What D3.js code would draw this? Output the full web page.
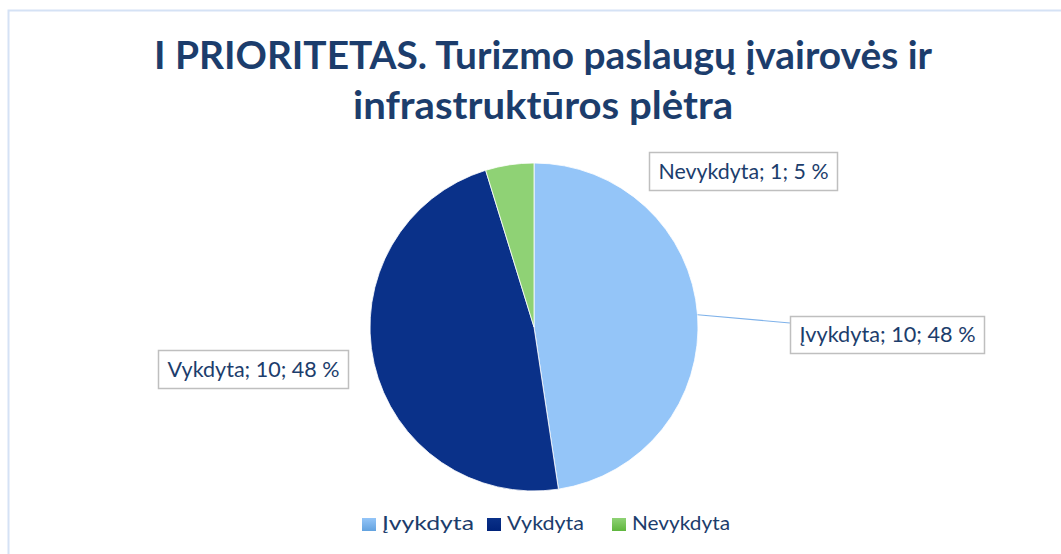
<!DOCTYPE html>
<html>
<head>
<meta charset="utf-8">
<script src="https://cdn.jsdelivr.net/npm/d3@7"></script>
<style>
  html, body { margin: 0; padding: 0; background: #ffffff; }
  svg { display: block; }
</style>
</head>
<body>
<script>
// ---- data ----
const categories = ["Įvykdyta", "Vykdyta", "Nevykdyta"];
const values = [10, 10, 1];
const titleLines = ["I PRIORITETAS. Turizmo paslaugų įvairovės ir", "infrastruktūros plėtra"];
const colorsTop = ["#94c5f8", "#0a3189", "#8fd275"];
const colorsBottom = ["#62a2df", "#00237a", "#5fb63d"];

// ---- layout ----
const W = 1061, H = 554;
const cx = 534, cy = 327, R = 164;
const font = "Lato, 'Open Sans', sans-serif";
const textColor = "#1c3d6c";

const svg = d3.select("body").append("svg")
  .attr("width", W).attr("height", H);

// outer chart border
svg.append("rect")
  .attr("x", 8.5).attr("y", 10.5)
  .attr("width", 1200).attr("height", 700)
  .attr("fill", "none").attr("stroke", "#d5e2f5").attr("stroke-width", 2);

// gradients
const defs = svg.append("defs");
categories.forEach((c, i) => {
  const g = defs.append("linearGradient")
    .attr("id", "grad" + i)
    .attr("gradientUnits", "userSpaceOnUse")
    .attr("x1", 0).attr("x2", 0)
    .attr("y1", cy - R).attr("y2", cy + R);
  g.append("stop").attr("offset", "0%").attr("stop-color", colorsTop[i]);
  g.append("stop").attr("offset", "100%").attr("stop-color", colorsBottom[i]);
  const g2 = defs.append("linearGradient")
    .attr("id", "lgrad" + i)
    .attr("x1", 0).attr("x2", 0).attr("y1", 0).attr("y2", 1);
  g2.append("stop").attr("offset", "0%").attr("stop-color", colorsTop[i]);
  g2.append("stop").attr("offset", "100%").attr("stop-color", colorsBottom[i]);
});

// title
const titleSizes = [778, 380];
const titleBase = [69, 119];
titleLines.forEach((t, i) => {
  svg.append("text")
    .attr("x", 543).attr("y", titleBase[i])
    .attr("text-anchor", "middle")
    .attr("font-family", font).attr("font-weight", "bold")
    .attr("font-size", 37.5).attr("fill", textColor)
    .attr("textLength", titleSizes[i]).attr("lengthAdjust", "spacingAndGlyphs")
    .text(t);
});

// pie
const data = categories.map((c, i) => ({ cat: c, value: values[i], i }));
const pie = d3.pie().value(d => d.value).sort(null);
const arcs = pie(data);
const arc = d3.arc().innerRadius(0).outerRadius(R);
const g = svg.append("g").attr("transform", `translate(${cx},${cy})`);
g.selectAll("path").data(arcs).join("path")
  .attr("d", arc)
  .attr("fill", d => `url(#grad${d.data.i})`)
  .attr("stroke", "#ffffff").attr("stroke-width", 0.8);

// data labels
const total = d3.sum(values);
const boxes = [
  { x: 790, y: 316, w: 194, h: 37 },   // Įvykdyta
  { x: 158, y: 350, w: 190, h: 38 },   // Vykdyta
  { x: 649, y: 152, w: 188, h: 38 }    // Nevykdyta
];
const textWidths = [176, 172, 170];

// leader line for Įvykdyta
{
  const a = arcs[0];
  const mid = (a.startAngle + a.endAngle) / 2;
  const sx = cx + R * Math.sin(mid), sy = cy - R * Math.cos(mid);
  const b = boxes[0];
  svg.append("path")
    .attr("d", `M${sx},${sy} L${b.x},${b.y + 7}`)
    .attr("fill", "none").attr("stroke", "#7fb2ea").attr("stroke-width", 1.2);
}

arcs.forEach((a, i) => {
  const b = boxes[i];
  const pct = Math.round(a.data.value / total * 100);
  svg.append("rect")
    .attr("x", b.x + 0.5).attr("y", b.y + 0.5)
    .attr("width", b.w).attr("height", b.h)
    .attr("fill", "#ffffff").attr("stroke", "#bfbfbf").attr("stroke-width", 1.5);
  svg.append("text")
    .attr("x", b.x + b.w / 2 + 0.5).attr("y", b.y + b.h / 2 + 7.5)
    .attr("text-anchor", "middle")
    .attr("font-family", font).attr("font-size", 21).attr("fill", textColor)
    .attr("textLength", textWidths[i]).attr("lengthAdjust", "spacingAndGlyphs")
    .text(`${a.data.cat}; ${a.data.value}; ${pct} %`);
});

// legend
const legX = [362, 487, 612];
const legW = [92, 77, 98];
const lg = svg.append("g");
categories.forEach((c, i) => {
  lg.append("rect")
    .attr("x", legX[i]).attr("y", 518)
    .attr("width", 14).attr("height", 13)
    .attr("fill", `url(#lgrad${i})`);
  lg.append("text")
    .attr("x", legX[i] + 20).attr("y", 530)
    .attr("font-family", font).attr("font-size", 20).attr("fill", textColor)
    .attr("textLength", legW[i]).attr("lengthAdjust", "spacingAndGlyphs")
    .text(c);
});
</script>
</body>
</html>
